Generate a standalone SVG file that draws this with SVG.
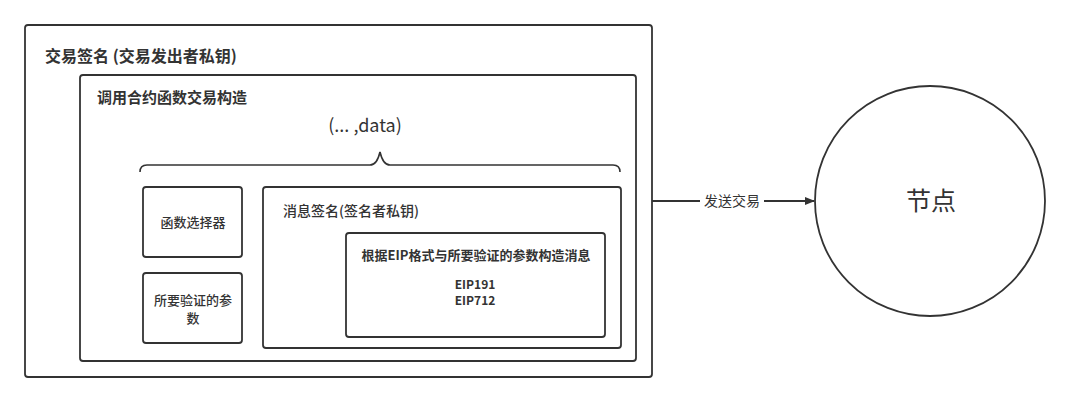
<svg xmlns="http://www.w3.org/2000/svg" width="1070" height="403" viewBox="0 0 1070 403">
<defs>
<style>
.box{fill:#fff;stroke:#333;stroke-width:1.8}
.t{font-family:"Noto Sans CJK SC","Noto Sans",sans-serif;fill:#333}
.m{font-weight:500}
.b{font-weight:bold}
</style>
<marker id="arr" markerWidth="10" markerHeight="8" refX="9" refY="4" orient="auto" markerUnits="userSpaceOnUse">
<path d="M0,0 L10,4 L0,8 Z" fill="#333"/>
</marker>
</defs>
<rect width="1070" height="403" fill="#fff"/>
<g id="outer">
<rect class="box" x="25" y="25" width="627" height="352" rx="3"/>
<text class="t b" x="45" y="62" font-size="16">交易签名 (交易发出者私钥)</text>
</g>
<g id="construct">
<rect class="box" x="80" y="75" width="556" height="286" rx="3"/>
<text class="t b" x="97" y="103" font-size="15">调用合约函数交易构造</text>
<text class="t" x="365" y="132" font-size="18" text-anchor="middle">(... ,data)</text>
<path d="M140,172 Q140,165 147,165 L370,165 Q377,165 380,152 Q383,165 390,165 L613,165 Q620,165 620,172" fill="none" stroke="#333" stroke-width="1.6"/>
</g>
<g id="selector">
<rect class="box" x="143" y="187" width="99" height="70" rx="3"/>
<text class="t m" x="193" y="227" font-size="13" text-anchor="middle">函数选择器</text>
</g>
<g id="params">
<rect class="box" x="143" y="273" width="99" height="70" rx="3"/>
<text class="t m" x="193" y="305" font-size="13" text-anchor="middle">所要验证的参</text>
<text class="t m" x="193" y="323" font-size="13" text-anchor="middle">数</text>
</g>
<g id="msgsign">
<rect class="box" x="263" y="187" width="358" height="161" rx="3"/>
<text class="t m" x="283" y="216" font-size="14">消息签名(签名者私钥)</text>
</g>
<g id="msg">
<rect class="box" x="346" y="233" width="259" height="104" rx="3"/>
<text class="t b" x="476" y="260" font-size="13" text-anchor="middle">根据EIP格式与所要验证的参数构造消息</text>
<text class="t b" x="475" y="289" font-size="12" text-anchor="middle">EIP191</text>
<text class="t b" x="475" y="305" font-size="12" text-anchor="middle">EIP712</text>
</g>
<g id="node">
<circle class="box" cx="930" cy="201" r="115"/>
<text class="t" x="931" y="210" font-size="25" text-anchor="middle">节点</text>
</g>
<g id="connectors">
<line x1="652" y1="201" x2="814" y2="201" stroke="#333" stroke-width="1.8" marker-end="url(#arr)"/>
<rect x="700" y="192" width="64" height="18" fill="#fff"/>
<text class="t" x="732" y="206" font-size="14" text-anchor="middle">发送交易</text>
</g>
</svg>
